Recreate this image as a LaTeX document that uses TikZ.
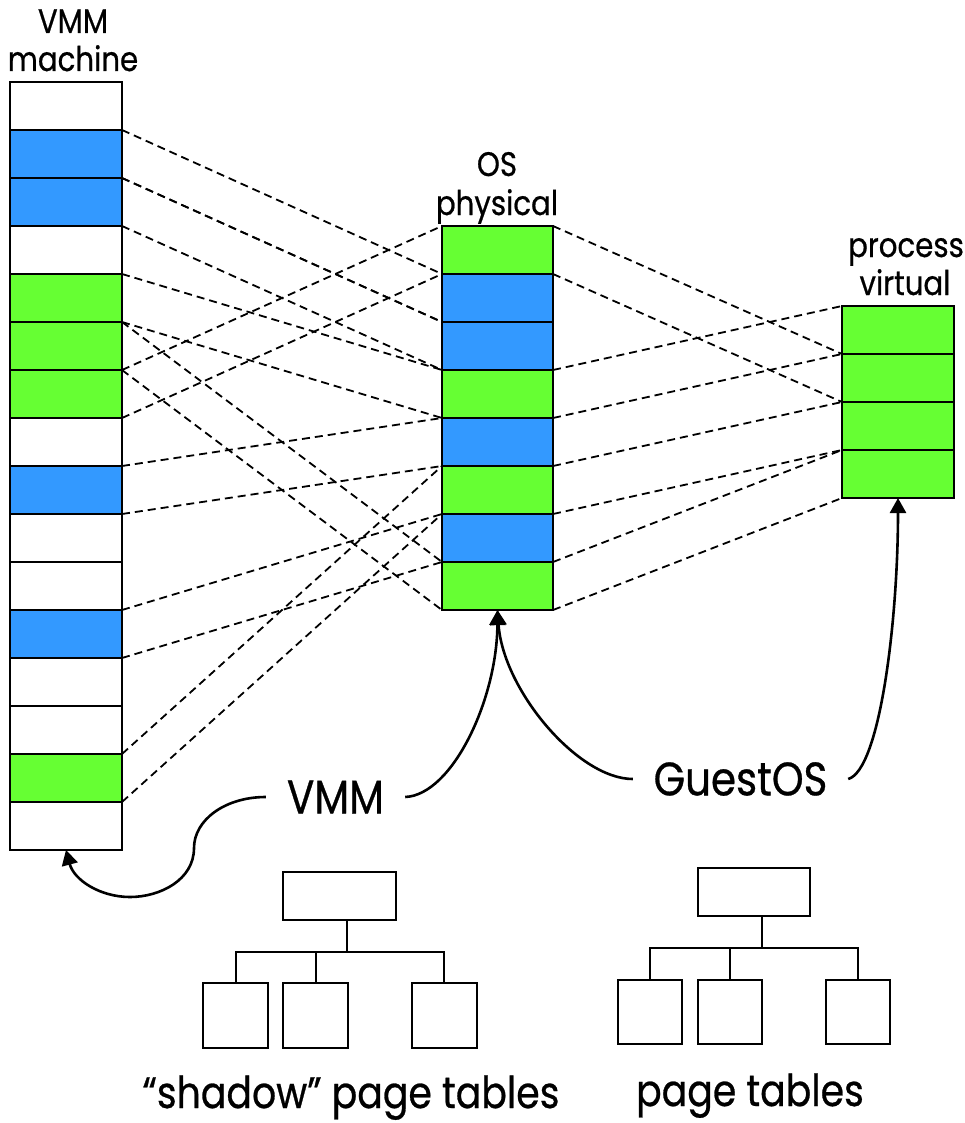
\documentclass[tikz,border=0pt]{standalone}
\usepackage{fontspec}
\setmainfont{Poppins}[FakeStretch=0.86, FakeBold=0.6]
\usetikzlibrary{arrows.meta,calc}
\definecolor{pgblue}{RGB}{51,153,255}
\definecolor{pggreen}{RGB}{102,255,51}
\tikzset{
  cell/.style={draw, line width=2.4pt, inner sep=0pt, outer sep=0pt,
    minimum width=112pt, minimum height=48pt},
  mapline/.style={line width=1.8pt, dash pattern=on 8pt off 5pt},
  ptbox/.style={draw, line width=2pt, inner sep=0pt, outer sep=0pt},
  treeline/.style={line width=2pt},
  small/.style={font=\fontsize{34}{40}\selectfont, inner sep=0pt, anchor=base},
  big/.style={font=\fontsize{47}{52}\selectfont, inner sep=0pt},
  bottom/.style={font=\fontsize{44}{50}\selectfont, inner sep=0pt, anchor=base},
  ctl/.style={line width=2.6pt, -{Triangle[length=15pt,width=16pt]}}
}
\begin{document}
\begin{tikzpicture}[x=1pt, y=-1pt]
\useasboundingbox (0,0) rectangle (965,1123);

% column titles
\node[small] (tL1) at (73,33) {VMM};
\node[small] (tL2) at (73,71) {machine};
\node[small] (tM1) at (497,176) {OS};
\node[small] (tM2) at (497,215) {physical};
\node[small] (tR1) at (906,257) {process};
\node[small] (tR2) at (905,295) {virtual};

% machine memory (VMM)
\foreach \c [count=\i from 0] in
  {white,pgblue,pgblue,white,pggreen,pggreen,pggreen,white,
   pgblue,white,white,pgblue,white,white,pggreen,white}
  \node[cell, fill=\c] (L\i) at (66,106+48*\i) {};

% guest physical memory
\foreach \c [count=\i from 0] in
  {pggreen,pgblue,pgblue,pggreen,pgblue,pggreen,pgblue,pggreen}
  \node[cell, fill=\c, minimum width=111pt] (M\i) at (497.5,250+48*\i) {};

% process virtual memory
\foreach \i in {0,...,3}
  \node[cell, fill=pggreen] (R\i) at (898,330+48*\i) {};

% machine -> physical mappings
\foreach \a/\b in {1/1,2/2,4/3,5/7,6/0,8/4,11/6,14/5} {
  \draw[mapline] (L\a.north east) -- (M\b.north west);
  \draw[mapline] (L\a.south east) -- (M\b.south west);
}
% physical -> virtual mappings
\foreach \a/\b in {0/1,3/0,5/2,7/3} {
  \draw[mapline] (M\a.north east) -- (R\b.north west);
  \draw[mapline] (M\a.south east) -- (R\b.south west);
}

% managers
\node[big, minimum width=139pt] (vmm) at (335.5,797) {VMM};
\node[big, minimum width=215pt] (guest) at (740.5,779) {GuestOS};

\draw[ctl] (vmm.east) .. controls (452,795) and (497,700) .. (M7.south);
\draw[ctl] (vmm.west) .. controls (225,797) and (194,820) .. (194,848)
  .. controls (194,880) and (160,897) .. (130,897)
  .. controls (100,897) and (74,880) .. (L15.south);
\draw[ctl] (guest.west) .. controls (578,779) and (503,690) .. (M7.south);
\draw[ctl] (guest.east) .. controls (880,770) and (898,620) .. (R3.south);

% shadow page tables
\node[ptbox, minimum width=113pt, minimum height=48pt] (s0) at (339.5,896) {};
\node[ptbox, minimum width=65pt, minimum height=65pt] (s1) at (235.5,1015.5) {};
\node[ptbox, minimum width=65pt, minimum height=65pt] (s2) at (315.5,1015.5) {};
\node[ptbox, minimum width=65pt, minimum height=65pt] (s3) at (444,1015.5) {};
\coordinate (sj) at (347,952);
\draw[treeline] (s0.south -| sj) -- (sj);
\draw[treeline] (s1.north) |- (s3.north |- sj) -- (s3.north);
\draw[treeline] (s2.north) -- (s2.north |- sj);
\node[bottom] (slabel) at (351,1108) {“shadow” page tables};

% guest page tables
\node[ptbox, minimum width=112pt, minimum height=48pt] (g0) at (754,892) {};
\node[ptbox, minimum width=64pt, minimum height=64pt] (g1) at (650,1012) {};
\node[ptbox, minimum width=64pt, minimum height=64pt] (g2) at (730,1012) {};
\node[ptbox, minimum width=64pt, minimum height=64pt] (g3) at (858,1012) {};
\coordinate (gj) at (762,948);
\draw[treeline] (g0.south -| gj) -- (gj);
\draw[treeline] (g1.north) |- (g3.north |- gj) -- (g3.north);
\draw[treeline] (g2.north) -- (g2.north |- gj);
\node[bottom] (glabel) at (750,1106) {page tables};
\end{tikzpicture}
\end{document}
